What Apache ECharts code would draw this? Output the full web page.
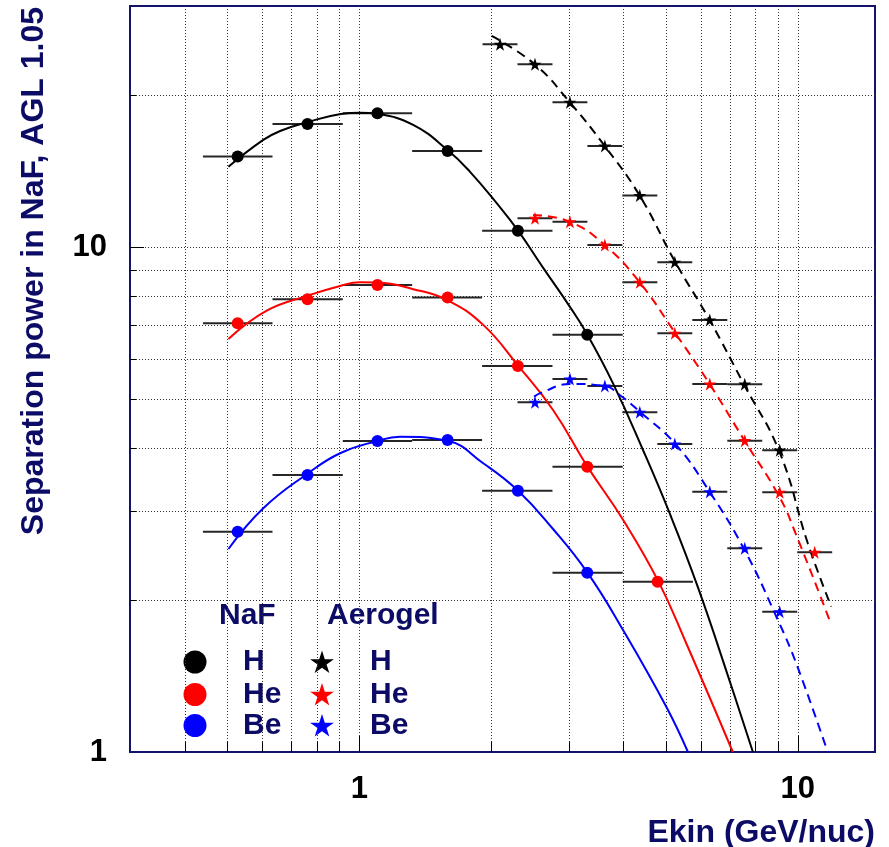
<!DOCTYPE html>
<html>
<head>
<meta charset="utf-8">
<script src="https://cdn.jsdelivr.net/npm/echarts@6/dist/echarts.min.js"></script>
<style>
  html, body { margin: 0; padding: 0; background: #ffffff; }
  #chart { width: 889px; height: 847px; }
</style>
</head>
<body>
<div id="chart"></div>
<script>
// ---- NaF radiator: bin edges (GeV/nuc), bin centres and separation power ----
const nafEdges = [0.44, 0.634, 0.917, 1.32, 1.906, 2.758, 3.988, 5.766];
const nafX     = [0.528, 0.762, 1.10, 1.59, 2.30, 3.31, 4.79];
const nafH     = [15.10, 17.52, 18.40, 15.49, 10.77, 6.70];
const nafHe    = [7.06, 7.88, 8.41, 7.94, 5.81, 3.673, 2.174];
const nafBe    = [2.731, 3.536, 4.13, 4.147, 3.291, 2.265];

// ---- Aerogel radiator (AGL 1.05): finer bins ----
const aglEdges = [1.91, 2.295, 2.758, 3.313, 3.98, 4.783, 5.747, 6.906, 8.297, 9.97, 11.98];
const aglX     = [2.094, 2.516, 3.023, 3.631, 4.362, 5.243, 6.30, 7.57, 9.095, 10.93];
const aglHStart = 0, aglHeStart = 1, aglBeStart = 1;   // first occupied bin per species
const aglH     = [25.2, 23.0, 19.34, 15.85, 12.64, 9.33, 7.17, 5.35, 3.96];
const aglHe    = [11.40, 11.22, 10.09, 8.51, 6.75, 5.355, 4.135, 3.268, 2.486];
const aglBe    = [4.927, 5.476, 5.307, 4.708, 4.073, 3.276, 2.531, 1.896];

// ---- fitted curves (sampled) ----
const fitNafHX  = [0.503, 0.604, 0.660, 0.760, 0.908, 1.004, 1.101, 1.327, 1.590, 1.787, 2.073, 2.302, 2.636, 3.020, 3.314, 3.790, 4.436, 5.102, 5.918, 6.988, 7.90];
const fitNafHY  = [14.42, 16.29, 16.97, 17.66, 18.34, 18.45, 18.34, 17.44, 15.56, 14.10, 12.11, 10.77, 9.05, 7.62, 6.70, 5.37, 3.963, 2.970, 2.12, 1.385, 1.0];
const fitNafHeX = [0.503, 0.615, 0.759, 0.904, 1.004, 1.101, 1.327, 1.586, 1.917, 2.302, 2.766, 3.314, 3.995, 4.80, 5.57, 7.11];
const fitNafHeY = [6.574, 7.48, 8.00, 8.37, 8.51, 8.50, 8.25, 7.85, 7.01, 5.82, 4.755, 3.673, 2.882, 2.184, 1.64, 1.0];
const fitNafBeX = [0.503, 0.604, 0.759, 0.904, 1.101, 1.238, 1.586, 1.917, 2.302, 2.766, 3.314, 3.995, 5.013, 5.617];
const fitNafBeY = [2.523, 3.038, 3.548, 3.904, 4.13, 4.21, 4.135, 3.73, 3.291, 2.764, 2.265, 1.744, 1.229, 1.0];
const fitAglHX  = [2.003, 2.513, 3.020, 3.628, 4.359, 5.257, 6.293, 7.534, 9.085, 10.54, 11.92];
const fitAglHY  = [26.17, 23.0, 19.34, 15.85, 12.64, 9.327, 7.167, 5.348, 3.927, 2.59, 1.94];
const fitAglHeX = [2.491, 3.020, 3.628, 4.359, 5.257, 6.293, 7.561, 9.085, 9.917, 11.81];
const fitAglHeY = [11.57, 11.22, 10.09, 8.51, 6.75, 5.355, 4.135, 3.198, 2.69, 1.826];
const fitAglBeX = [2.504, 2.603, 3.020, 3.628, 3.926, 4.359, 5.257, 6.293, 7.561, 9.005, 9.917, 11.70];
const fitAglBeY = [5.053, 5.146, 5.355, 5.307, 5.093, 4.72, 4.073, 3.276, 2.512, 1.826, 1.498, 1.0];

// ---- axes ----
const xGridVals = [0.4, 0.5, 0.6, 0.7, 0.8, 0.9, 1, 2, 3, 4, 5, 6, 7, 8, 9, 10];
const yGridVals = [2, 3, 4, 5, 6, 7, 8, 9, 10, 20];
const xTitle = 'Ekin (GeV/nuc)';
const yTitle = 'Separation power in NaF, AGL 1.05';
const legendHeaders = ['NaF', 'Aerogel'];
const legendLabels = ['H', 'He', 'Be'];

const FONT = '"Liberation Sans", Arial, Helvetica, sans-serif';
const NAVY = '#0c0c66';
const BLACK = '#000000', RED = '#ff0000', BLUE = '#0000ff';
const COLORS = [BLACK, RED, BLUE];
const STAR = 'path://M0,-10 L2.245,-3.09 L9.51,-3.09 L3.633,1.18 L5.88,8.09 L0,3.82 L-5.88,8.09 L-3.633,1.18 L-9.51,-3.09 L-2.245,-3.09 Z';
// five-pointed star outline, unit outer radius
const STAR_PTS = [[0,-1],[0.2245,-0.309],[0.951,-0.309],[0.3633,0.118],[0.588,0.809],[0,0.382],
                  [-0.588,0.809],[-0.3633,0.118],[-0.951,-0.309],[-0.2245,-0.309]];

function isDecade(v) {
  const l = Math.log10(v);
  return Math.abs(l - Math.round(l)) < 1e-9;
}
const crisp = v => Math.round(v) + 0.5;
const GRID_STYLE = { stroke: '#333', lineWidth: 1, lineDash: [1, 2] };

// dotted grid + inward ticks along the bottom axis
const xGridSeries = {
  type: 'custom', coordinateSystem: 'cartesian2d', silent: true, z: 1,
  data: xGridVals.map(v => [v, 1]),
  encode: { x: 0, y: 1 },
  renderItem: (params, api) => {
    const v = api.value(0);
    const px = crisp(api.coord([v, 1])[0]);
    const cs = params.coordSys;
    const bottom = cs.y + cs.height;
    const len = isDecade(v) ? 16 : 10;
    return {
      type: 'group', children: [
        { type: 'line', shape: { x1: px, y1: cs.y, x2: px, y2: bottom }, style: GRID_STYLE },
        { type: 'line', shape: { x1: px, y1: bottom, x2: px, y2: bottom - len },
          style: { stroke: '#000', lineWidth: 1 } }
      ]
    };
  }
};

// dotted grid + inward ticks along the left axis
const yGridSeries = {
  type: 'custom', coordinateSystem: 'cartesian2d', silent: true, z: 1,
  data: yGridVals.map(v => [1, v]),
  encode: { x: 0, y: 1 },
  renderItem: (params, api) => {
    const v = api.value(1);
    const py = crisp(api.coord([1, v])[1]);
    const cs = params.coordSys;
    const len = isDecade(v) ? 14 : 6;
    return {
      type: 'group', children: [
        { type: 'line', shape: { x1: cs.x, y1: py, x2: cs.x + cs.width, y2: py }, style: GRID_STYLE },
        { type: 'line', shape: { x1: cs.x, y1: py, x2: cs.x + len, y2: py },
          style: { stroke: '#000', lineWidth: 1 } }
      ]
    };
  }
};

// horizontal bars showing the bin width of each measurement
function binBars(values, edges, start) {
  return {
    type: 'custom', coordinateSystem: 'cartesian2d', silent: true, z: 2,
    data: values.map((y, i) => [edges[start + i], edges[start + i + 1], y]),
    encode: { x: [0, 1], y: 2 },
    renderItem: (params, api) => {
      const a = api.coord([api.value(0), api.value(2)]);
      const b = api.coord([api.value(1), api.value(2)]);
      return { type: 'line', shape: { x1: a[0], y1: a[1], x2: b[0], y2: b[1] },
               style: { stroke: '#262626', lineWidth: 2 } };
    }
  };
}

function fitLine(xs, ys, color, dashed) {
  return {
    type: 'line', z: 3, silent: true, showSymbol: false, smooth: 0.45,
    data: xs.map((x, i) => [x, ys[i]]),
    lineStyle: { color: color, width: 2, type: dashed ? [9, 6] : 'solid' },
    emphasis: { disabled: true }
  };
}

function points(name, xs, ys, start, color, symbol, size) {
  return {
    name: name, type: 'scatter', z: 4,
    data: ys.map((y, i) => [xs[start + i], y]),
    symbol: symbol, symbolSize: size,
    itemStyle: { color: color, opacity: 1 }
  };
}

// legend drawn as graphic items: two columns with headers
const legendRowY = [662, 694.5, 725.5];
const legendFont = 'bold 30px ' + FONT;
const legendGraphics = [
  { type: 'text', x: 219, y: 616, style: { text: legendHeaders[0], font: legendFont, fill: NAVY, align: 'left', verticalAlign: 'middle' } },
  { type: 'text', x: 327, y: 616, style: { text: legendHeaders[1], font: legendFont, fill: NAVY, align: 'left', verticalAlign: 'middle' } }
];
legendLabels.forEach((label, i) => {
  const y = legendRowY[i];
  legendGraphics.push({ type: 'circle', shape: { cx: 195, cy: y, r: 11.5 }, style: { fill: COLORS[i] } });
  legendGraphics.push({ type: 'text', x: 243, y: y,
    style: { text: label, font: legendFont, fill: NAVY, verticalAlign: 'middle', align: 'left' } });
  legendGraphics.push({ type: 'polygon',
    shape: { points: STAR_PTS.map(p => [322 + p[0] * 12.5, y + 1 + p[1] * 12.5]) },
    style: { fill: COLORS[i] } });
  legendGraphics.push({ type: 'text', x: 370, y: y,
    style: { text: label, font: legendFont, fill: NAVY, verticalAlign: 'middle', align: 'left' } });
});

const chart = echarts.init(document.getElementById('chart'), null, { renderer: 'canvas' });
chart.setOption({
  backgroundColor: '#ffffff',
  animation: false,
  grid: { left: 130, top: 6, right: 14, bottom: 95, show: true,
          borderColor: '#13136b', borderWidth: 2, backgroundColor: '#ffffff' },
  xAxis: {
    type: 'log', logBase: 10, min: 0.3, max: 15,
    axisLine: { show: false }, axisTick: { show: false }, splitLine: { show: false },
    axisLabel: { fontSize: 31, fontWeight: 'bold', color: '#000', fontFamily: FONT, margin: 22,
                 showMinLabel: false, showMaxLabel: false }
  },
  yAxis: {
    type: 'log', logBase: 10, min: 1, max: 30,
    axisLine: { show: false }, axisTick: { show: false }, splitLine: { show: false },
    axisLabel: { fontSize: 31, fontWeight: 'bold', color: '#000', fontFamily: FONT, margin: 23,
                 showMaxLabel: false }
  },
  graphic: [
    { type: 'text', x: 875, y: 833,
      style: { text: xTitle, font: 'bold 32px ' + FONT, fill: NAVY, align: 'right', verticalAlign: 'middle' } },
    { type: 'text', x: 34, y: 7, rotation: Math.PI / 2,
      style: { text: yTitle, font: 'bold 32px ' + FONT, fill: NAVY, align: 'right', verticalAlign: 'middle' } }
  ].concat(legendGraphics),
  series: [
    xGridSeries,
    yGridSeries,
    binBars(nafH, nafEdges, 0),
    binBars(nafHe, nafEdges, 0),
    binBars(nafBe, nafEdges, 0),
    binBars(aglH, aglEdges, aglHStart),
    binBars(aglHe, aglEdges, aglHeStart),
    binBars(aglBe, aglEdges, aglBeStart),
    fitLine(fitNafHX, fitNafHY, BLACK, false),
    fitLine(fitNafHeX, fitNafHeY, RED, false),
    fitLine(fitNafBeX, fitNafBeY, BLUE, false),
    fitLine(fitAglHX, fitAglHY, BLACK, true),
    fitLine(fitAglHeX, fitAglHeY, RED, true),
    fitLine(fitAglBeX, fitAglBeY, BLUE, true),
    points('NaF H', nafX, nafH, 0, BLACK, 'circle', 12),
    points('NaF He', nafX, nafHe, 0, RED, 'circle', 12),
    points('NaF Be', nafX, nafBe, 0, BLUE, 'circle', 12),
    points('Aerogel H', aglX, aglH, aglHStart, BLACK, STAR, 13),
    points('Aerogel He', aglX, aglHe, aglHeStart, RED, STAR, 13),
    points('Aerogel Be', aglX, aglBe, aglBeStart, BLUE, STAR, 13)
  ]
});
</script>
</body>
</html>
